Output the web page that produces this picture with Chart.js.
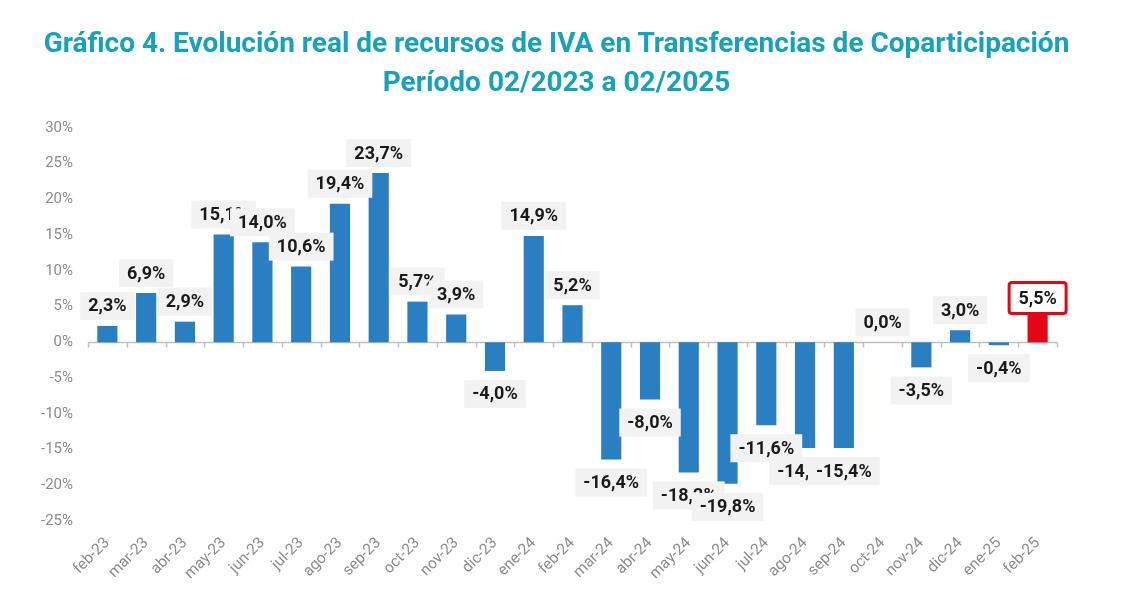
<!DOCTYPE html>
<html>
<head>
<meta charset="utf-8">
<script src="https://cdn.jsdelivr.net/npm/chart.js@4"></script>
<style>
  html, body { margin: 0; padding: 0; background: #ffffff; }
  #wrap { position: relative; width: 1123px; height: 593px; overflow: hidden; }
  #title {
    position: absolute; left: 0; top: 23px; width: 1113px; text-align: center;
    font-family: Roboto, "Noto Sans", sans-serif; font-weight: bold; font-size: 28px;
    line-height: 39px; color: #17a2bb; z-index: 2; white-space: nowrap;
  }
  canvas { position: absolute; left: 0; top: 0; }
</style>
</head>
<body>
<div id="wrap">
  <div id="title">Gráfico 4. Evolución real de recursos de IVA en Transferencias de Coparticipación<br>Período 02/2023 a 02/2025</div>
  <canvas id="c" width="1123" height="593"></canvas>
</div>
<script>
const categories = ["feb-23","mar-23","abr-23","may-23","jun-23","jul-23","ago-23","sep-23","oct-23","nov-23","dic-23","ene-24","feb-24","mar-24","abr-24","may-24","jun-24","jul-24","ago-24","sep-24","oct-24","nov-24","dic-24","ene-25","feb-25"];
const values = [2.3, 6.9, 2.9, 15.1, 14.0, 10.6, 19.4, 23.7, 5.7, 3.9, -4.0, 14.9, 5.2, -16.4, -8.0, -18.2, -19.8, -11.6, -14.8, -14.8, 0.0, -3.5, 1.7, -0.4, 5.5];
const labelTexts = ["2,3%","6,9%","2,9%","15,1%","14,0%","10,6%","19,4%","23,7%","5,7%","3,9%","-4,0%","14,9%","5,2%","-16,4%","-8,0%","-18,2%","-19,8%","-11,6%","-14,8%","-15,4%","0,0%","-3,5%","3,0%","-0,4%","5,5%"];
const yTicks = [-25, -20, -15, -10, -5, 0, 5, 10, 15, 20, 25, 30];
const highlightIndex = categories.length - 1;

const BLUE = "#2a7fc2";
const RED = "#e30613";

function roundRect(ctx, x, y, w, h, r) {
  ctx.beginPath();
  ctx.moveTo(x + r, y);
  ctx.lineTo(x + w - r, y);
  ctx.quadraticCurveTo(x + w, y, x + w, y + r);
  ctx.lineTo(x + w, y + h - r);
  ctx.quadraticCurveTo(x + w, y + h, x + w - r, y + h);
  ctx.lineTo(x + r, y + h);
  ctx.quadraticCurveTo(x, y + h, x, y + h - r);
  ctx.lineTo(x, y + r);
  ctx.quadraticCurveTo(x, y, x + r, y);
  ctx.closePath();
}

const zeroLinePlugin = {
  id: "zeroLine",
  beforeDatasetsDraw(chart) {
    const ctx = chart.ctx;
    const area = chart.chartArea;
    const y0 = Math.round(chart.scales.y.getPixelForValue(0)) + 0.5;
    ctx.save();
    ctx.strokeStyle = "#bfbfbf";
    ctx.lineWidth = 1.5;
    ctx.beginPath();
    ctx.moveTo(area.left, y0);
    ctx.lineTo(area.right, y0);
    const n = categories.length;
    const step = (area.right - area.left) / n;
    for (let i = 0; i <= n; i++) {
      const x = Math.round(area.left + i * step) + 0.5;
      ctx.moveTo(x, y0);
      ctx.lineTo(x, y0 + 5);
    }
    ctx.stroke();
    ctx.restore();
  }
};

const labelPlugin = {
  id: "boxLabels",
  afterDatasetsDraw(chart) {
    const ctx = chart.ctx;
    const meta = chart.getDatasetMeta(0);
    ctx.save();
    ctx.font = "bold 18px Roboto, 'Noto Sans', sans-serif";
    ctx.textAlign = "center";
    ctx.textBaseline = "middle";
    meta.data.forEach((el, i) => {
      const v = values[i];
      const txt = labelTexts[i];
      const tw = ctx.measureText(txt).width;
      const cx = el.x;
      let cy;
      if (i === highlightIndex) {
        cy = el.y - 5;
        const w = 57, h = 31;
        ctx.fillStyle = "#ffffff";
        roundRect(ctx, cx - w / 2, cy - h / 2, w, h, 3);
        ctx.fill();
        ctx.lineWidth = 3;
        ctx.strokeStyle = RED;
        ctx.stroke();
      } else {
        cy = v >= 0 ? el.y - 20 : el.y + 23;
        const w = tw + 16, h = 28;
        ctx.fillStyle = "#f2f2f2";
        ctx.fillRect(cx - w / 2, cy - h / 2, w, h);
      }
      ctx.fillStyle = "#1a1a1a";
      ctx.fillText(txt, cx, cy + 1);
    });
    ctx.restore();
  }
};

new Chart(document.getElementById("c"), {
  type: "bar",
  data: {
    labels: categories,
    datasets: [{
      data: values,
      backgroundColor: values.map((v, i) => i === highlightIndex ? RED : BLUE),
      borderWidth: 0,
      barPercentage: 0.52,
      categoryPercentage: 1.0
    }]
  },
  options: {
    responsive: false,
    animation: false,
    layout: { padding: { left: 0, right: 66, top: 128, bottom: 0 } },
    plugins: {
      legend: { display: false },
      tooltip: { enabled: false },
      title: { display: false }
    },
    scales: {
      x: {
        offset: true,
        grid: { display: false, drawTicks: false },
        border: { display: false },
        ticks: {
          color: "#8c8c8c",
          font: { family: "Roboto, 'Noto Sans', sans-serif", size: 15.5 },
          maxRotation: 45,
          minRotation: 45,
          padding: 13,
          autoSkip: false
        },
        afterFit(axis) { axis.height = 72; }
      },
      y: {
        min: -25,
        max: 30,
        afterBuildTicks(axis) { axis.ticks = yTicks.map(v => ({ value: v })); },
        grid: { display: false, drawTicks: false },
        border: { display: false },
        ticks: {
          color: "#8c8c8c",
          font: { family: "Roboto, 'Noto Sans', sans-serif", size: 15 },
          padding: 15,
          callback: v => v + "%"
        },
        afterFit(axis) { axis.width = 88; }
      }
    }
  },
  plugins: [zeroLinePlugin, labelPlugin]
});
</script>
</body>
</html>
